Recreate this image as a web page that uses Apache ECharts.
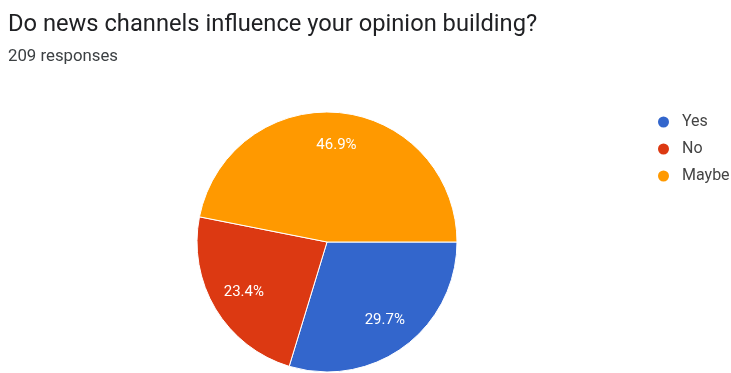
<!DOCTYPE html>
<html>
<head>
<meta charset="utf-8">
<script src="https://cdn.jsdelivr.net/npm/echarts@6/dist/echarts.min.js"></script>
<style>
html,body{margin:0;padding:0;background:#fff;}
#chart{width:731px;height:373px;}
</style>
</head>
<body>
<div id="chart"></div>
<script>
const titleText = "Do news channels influence your opinion building?";
const subtitleText = "209 responses";
const categories = ["Yes", "No", "Maybe"];
const percents = [29.7, 23.4, 46.9];
const colors = ["#3366cc", "#dc3912", "#ff9900"];

const data = categories.map((name, i) => ({ name: name, value: percents[i] }));

const chart = echarts.init(document.getElementById('chart'), null, { renderer: 'canvas' });
chart.setOption({
  animation: false,
  color: colors,
  title: {
    text: titleText,
    subtext: subtitleText,
    left: 3,
    top: 8,
    itemGap: 11,
    textStyle: { fontFamily: 'Roboto', fontSize: 23.7, fontWeight: 'normal', color: '#202124' },
    subtextStyle: { fontFamily: 'Roboto', fontSize: 16.8, color: '#3c4043' }
  },
  legend: {
    orient: 'vertical',
    left: 651,
    top: 109,
    icon: 'circle',
    itemWidth: 13,
    itemHeight: 13,
    itemGap: 11,
    data: categories,
    textStyle: { fontFamily: 'Roboto', fontSize: 16, color: '#444', padding: [0, 0, 0, 7] }
  },
  series: [
    {
      type: 'pie',
      center: [327, 242],
      radius: [0, 130],
      startAngle: 0,
      clockwise: true,
      label: { show: false },
      labelLine: { show: false },
      itemStyle: { borderColor: '#fff', borderWidth: 1 },
      emphasis: { disabled: true },
      data: data
    },
    {
      type: 'pie',
      center: [327, 242],
      radius: [58, 130],
      startAngle: 0,
      clockwise: true,
      silent: true,
      legendHoverLink: false,
      itemStyle: { color: 'rgba(0,0,0,0)', borderWidth: 0 },
      label: {
        show: true,
        position: 'inside',
        formatter: p => p.value.toFixed(1) + '%',
        fontFamily: 'Roboto',
        fontSize: 15,
        color: '#fff'
      },
      labelLine: { show: false },
      emphasis: { disabled: true },
      data: data
    }
  ]
});
</script>
</body>
</html>
